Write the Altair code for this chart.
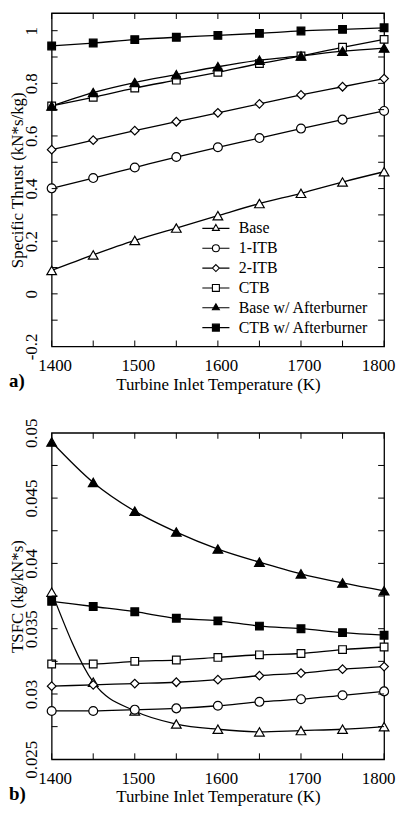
import altair as alt
import pandas as pd

# ---------------- data ----------------
temps = [1400, 1450, 1500, 1550, 1600, 1650, 1700, 1750, 1800]
series = ["Base", "1-ITB", "2-ITB", "CTB", "Base w/ Afterburner", "CTB w/ Afterburner"]

thrust_base = [0.089, 0.148, 0.203, 0.250, 0.297, 0.343, 0.382, 0.425, 0.464]
thrust_1itb = [0.401, 0.440, 0.480, 0.520, 0.557, 0.592, 0.628, 0.662, 0.695]
thrust_2itb = [0.548, 0.584, 0.620, 0.654, 0.688, 0.722, 0.756, 0.787, 0.818]
thrust_ctb = [0.714, 0.747, 0.782, 0.812, 0.842, 0.875, 0.904, 0.937, 0.967]
thrust_base_ab = [0.714, 0.765, 0.803, 0.833, 0.863, 0.888, 0.904, 0.922, 0.934]
thrust_ctb_ab = [0.942, 0.953, 0.966, 0.975, 0.982, 0.990, 0.999, 1.005, 1.011]

tsfc_base = [0.0378, 0.0309, 0.0287, 0.0277, 0.0273, 0.0271, 0.0272, 0.0273, 0.0275]
tsfc_1itb = [0.0287, 0.0287, 0.0288, 0.0289, 0.0291, 0.0294, 0.0296, 0.0299, 0.0302]
tsfc_2itb = [0.0306, 0.0307, 0.0308, 0.0309, 0.0311, 0.0314, 0.0316, 0.0319, 0.0321]
tsfc_ctb = [0.0323, 0.0323, 0.0325, 0.0326, 0.0328, 0.0330, 0.0331, 0.0334, 0.0336]
tsfc_base_ab = [0.0493, 0.0462, 0.0440, 0.0424, 0.0411, 0.0401, 0.0392, 0.0385, 0.0379]
tsfc_ctb_ab = [0.0371, 0.0367, 0.0363, 0.0358, 0.0356, 0.0352, 0.0350, 0.0347, 0.0345]

x_ticks = [1400, 1450, 1500, 1550, 1600, 1650, 1700, 1750, 1800]
x_labels = [1400, 1500, 1600, 1700, 1800]
thrust_ticks = [-0.1, 0.0, 0.1, 0.2, 0.3, 0.4, 0.5, 0.6, 0.7, 0.8, 0.9, 1.0]
thrust_labels = [-0.2, 0, 0.2, 0.4, 0.6, 0.8, 1]
tsfc_ticks = [0.0275, 0.03, 0.0325, 0.035, 0.0375, 0.04, 0.0425, 0.045, 0.0475]
tsfc_labels = [0.025, 0.03, 0.035, 0.04, 0.045, 0.05]

# ---------------- styling ----------------
FONT = "Liberation Serif"
W = 335
H_TOP, H_BOT = 336, 329
TICK = 6

marker_shape = {"Base": "triangle-up", "1-ITB": "circle", "2-ITB": "diamond",
                "CTB": "square", "Base w/ Afterburner": "triangle-up",
                "CTB w/ Afterburner": "square"}
marker_fill = {"Base": "white", "1-ITB": "white", "2-ITB": "white", "CTB": "white",
               "Base w/ Afterburner": "black", "CTB w/ Afterburner": "black"}
marker_size = {"triangle-up": 95, "circle": 80, "diamond": 75, "square": 60}

legend_paths = [
    "M-3.9,0H-0.66M0.66,0H3.9M0,-1.15L1,0.58L-1,0.58Z",
    "M-3.9,0H-1M1,0H3.9M1,0A1,1,0,1,1,-1,0A1,1,0,1,1,1,0Z",
    "M-3.9,0H-1M1,0H3.9M0,-1L1,0L0,1L-1,0Z",
    "M-3.9,0H-1M1,0H3.9M-1,-1H1V1H-1Z",
    "M-3.9,0H3.9M0,-1.15L1,0.58L-1,0.58Z",
    "M-3.9,0H3.9M-1,-1H1V1H-1Z",
]
legend_fills = [marker_fill[s] for s in series]
legend_strokes = ["black"] * len(series)


def make_panel(cols, ydomain, ytitle, yticks, ylabels, tag, with_legend, H):
    rows = []
    for name, vals in zip(series, cols):
        for t, v in zip(temps, vals):
            rows.append({"T": t, "v": v, "s": name})
    df = pd.DataFrame(rows)

    x = alt.X("T:Q",
              scale=alt.Scale(domain=[1400, 1800], nice=False, zero=False),
              axis=alt.Axis(values=x_labels, format="d", labelFlush=False,
                            labelPadding=11, titleY=30,
                            labelOffset={"condition": {"test": "datum.value == 1800",
                                                       "value": -6},
                                         "value": 3},
                            title="Turbine Inlet Temperature (K)"))
    y = alt.Y("v:Q",
              scale=alt.Scale(domain=ydomain, nice=False, zero=False),
              axis=alt.Axis(values=ylabels, labelExpr="'' + datum.value",
                            labelAngle=-90, labelAlign="center",
                            labelBaseline="bottom", labelPadding=11,
                            labelFlush=False, titleX=-25, title=ytitle))

    base = alt.Chart(df)
    layers = [
        base.mark_line(interpolate="monotone", color="black", strokeWidth=1.3)
        .encode(x=x, y=y, detail="s:N")
    ]
    for name in series:
        shp = marker_shape[name]
        layers.append(
            base.transform_filter(alt.datum.s == name)
            .mark_point(shape=shp, filled=True, fill=marker_fill[name],
                        stroke="black", strokeWidth=1.2, opacity=1,
                        size=marker_size[shp])
            .encode(x=x, y=y)
        )

    xt = alt.Chart(pd.DataFrame({"T": x_ticks}))
    yt = alt.Chart(pd.DataFrame({"v": yticks}))
    layers += [
        xt.mark_rule(color="black", strokeWidth=1).encode(
            x=x, y=alt.value(H), y2=alt.value(H - TICK)),
        xt.mark_rule(color="black", strokeWidth=1).encode(
            x=x, y=alt.value(0), y2=alt.value(TICK)),
        yt.mark_rule(color="black", strokeWidth=1).encode(
            y=y, x=alt.value(0), x2=alt.value(TICK)),
        yt.mark_rule(color="black", strokeWidth=1).encode(
            y=y, x=alt.value(W), x2=alt.value(W - TICK)),
        alt.Chart(pd.DataFrame({"lab": [tag]}))
        .mark_text(align="left", baseline="alphabetic", font=FONT,
                   fontSize=19, fontWeight="bold", color="black")
        .encode(x=alt.value(-43), y=alt.value(H + 41), text="lab:N"),
    ]

    if with_legend:
        leg = alt.Legend(title=None, orient="none", legendX=143, legendY=209,
                         labelFont=FONT, labelFontSize=16, labelColor="black",
                         symbolSize=49, symbolOffset=14.5, labelOffset=15,
                         rowPadding=4, padding=0, symbolStrokeWidth=1.1,
                         symbolOpacity=1)
        layers.append(
            base.transform_filter("false")
            .mark_point(filled=True, strokeWidth=1.1, opacity=1)
            .encode(
                x=x, y=y,
                shape=alt.Shape("s:N", scale=alt.Scale(domain=series, range=legend_paths),
                                legend=leg),
                fill=alt.Fill("s:N", scale=alt.Scale(domain=series, range=legend_fills),
                              legend=leg),
                stroke=alt.Stroke("s:N", scale=alt.Scale(domain=series, range=legend_strokes),
                                  legend=leg),
            )
        )

    return alt.layer(*layers).properties(width=W, height=H)


top = make_panel(
    [thrust_base, thrust_1itb, thrust_2itb, thrust_ctb, thrust_base_ab, thrust_ctb_ab],
    [-0.2, 1.067], "Specific Thrust (kN*s/kg)", thrust_ticks, thrust_labels, "a)", True,
    H_TOP)
bottom = make_panel(
    [tsfc_base, tsfc_1itb, tsfc_2itb, tsfc_ctb, tsfc_base_ab, tsfc_ctb_ab],
    [0.025, 0.05], "TSFC (kg/kN*s)", tsfc_ticks, tsfc_labels, "b)", False,
    H_BOT)

chart = (
    alt.vconcat(top, bottom, spacing=24)
    .properties(padding=0)
    .configure_view(stroke="black", strokeWidth=1.3)
    .configure_axis(grid=False, domain=False, ticks=False, tickSize=0,
                    labelFont=FONT, titleFont=FONT, labelColor="black",
                    titleColor="black", labelFontSize=17, titleFontSize=17,
                    titleFontWeight="normal")
)

chart.save("out.html", embed_options={"renderer": "svg", "actions": False})
